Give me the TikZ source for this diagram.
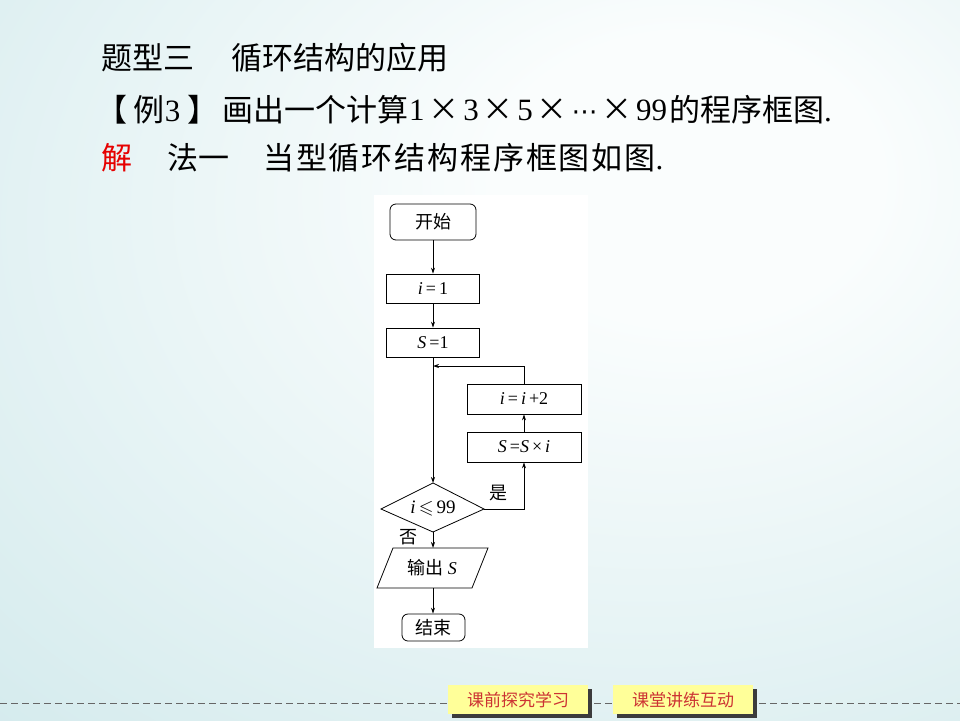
\documentclass[tikz,border=0pt]{standalone}
\usepackage{fontspec}
\usepackage{amssymb}
\setmainfont{Liberation Serif}
\newfontfamily\cjk{Noto Sans CJK SC}
\newfontfamily\cjksp[LetterSpace=6]{Noto Sans CJK SC}
\newfontfamily\dejavu{DejaVu Sans}
\usetikzlibrary{arrows.meta}
\definecolor{bgin}{RGB}{250,253,253}
\definecolor{bgout}{RGB}{186,222,226}
\definecolor{btnyellow}{RGB}{255,255,153}
\definecolor{btnred}{RGB}{204,51,51}
\definecolor{shadowgray}{RGB}{60,60,60}
\definecolor{jiered}{RGB}{230,0,0}
\pgfdeclareradialshading{bgshade}{\pgfpoint{12bp}{14bp}}{color(0bp)=(bgin); color(10bp)=(bgin); color(72bp)=(bgout); color(100bp)=(bgout)}
\tikzset{
  flow/.style={draw, line width=0.8pt, font=\fontsize{18}{18}\selectfont, inner sep=0pt, anchor=center},
  arr/.style={-{Stealth[length=6pt,width=4pt]}, line width=0.8pt},
  line/.style={line width=0.8pt},
  big/.style={anchor=west, inner sep=0pt, font=\fontsize{31}{31}\selectfont},
  lbl/.style={inner sep=0pt, font=\cjk\fontsize{18}{18}\selectfont},
  btn/.style={fill=btnyellow, text=btnred, inner sep=0pt, minimum width=140pt, minimum height=29pt, font=\cjk\fontsize{17}{17}\selectfont},
}
\begin{document}
\begin{tikzpicture}[x=1pt,y=-1pt]
\useasboundingbox (0,0) rectangle (960,720);
\shade[shading=bgshade] (0,0) rectangle (960,720);
\fill[white] (374,195) rectangle (588,648);

% header text
\node[big] (t1a) at (101,58) {\cjk 题型三};
\node[big] (t1b) at (231,58) {\cjk 循环结构的应用};
\node[big] (t2a) at (96,110) {\hbox to 122pt{{\cjk 【}\hfil{\cjk 例}3\hfil{\cjk 】}}};
\node[big] (t2b) at (222,110) {\cjk 画出一个计算};
\node[big] (t2c) at (409,110) {\hbox to 258pt{1\hfil{\cjk ×}\hfil 3\hfil{\cjk ×}\hfil 5\hfil{\cjk ×}\hfil{\dejavu\fontsize{26}{26}\selectfont ⋯}\hfil{\cjk ×}\hfil 99}};
\node[big, anchor=east] (t2d) at (832,110) {{\cjk 的程序框图}.};
\node[big, text=jiered] (t3a) at (101,158) {\cjk 解};
\node[big] (t3b) at (167,158) {\cjk 法一};
\node[big] (t3c) at (263,158) {{\cjksp 当型循环结构程序框图如图}.};

% flowchart
\node[flow, rounded corners=6pt, minimum width=86pt, minimum height=36pt] (start) at (433,222) {\cjk 开始};
\node[flow, minimum width=93pt, minimum height=29pt] (i1) at (433,288.5) {\textit{i}\,=\,1};
\node[flow, minimum width=93pt, minimum height=29pt] (s1) at (433,342.5) {\textit{S}\,=1};
\node[flow, minimum width=114pt, minimum height=30pt] (inc) at (524,399) {\textit{i}\,=\,\textit{i}\,+2};
\node[flow, minimum width=114pt, minimum height=30pt] (mul) at (524,447) {\textit{S}\,=\textit{S}\,×\,\textit{i}};

\coordinate (dt) at (433,483);
\coordinate (dr) at (484,509);
\coordinate (db) at (433,532);
\coordinate (dl) at (381,509);
\draw[line] (dt) -- (dr) -- (db) -- (dl) -- cycle;
\node[inner sep=0pt, font=\fontsize{19}{19}\selectfont] (dec) at (433,508.5) {\textit{i}\,$\leqslant$\,99};

\coordinate (p1) at (393,548);
\coordinate (p2) at (488,548);
\coordinate (p3) at (472,588);
\coordinate (p4) at (377,588);
\draw[line] (p1) -- (p2) -- (p3) -- (p4) -- cycle;
\node[inner sep=0pt, font=\fontsize{18}{18}\selectfont] (out) at (432,568) {{\cjk 输出} \textit{S}};
\coordinate (ot) at (433,548);
\coordinate (ob) at (433,588);

\node[flow, rounded corners=6pt, minimum width=63pt, minimum height=27pt] (end) at (433.5,627.5) {\cjk 结束};

\coordinate (jn) at (433,366);

\draw[arr] (start.south) -- (i1.north);
\draw[arr] (i1.south) -- (s1.north);
\draw[arr] (s1.south) -- (dt);
\draw[arr] (db) -- (ot);
\draw[arr] (ob) -- (end.north -| ob);
\draw[arr] (dr) -| (mul.south);
\draw[arr] (mul.north) -- (inc.south);
\draw[arr] (inc.north) |- (jn);

\node[lbl] (yes) at (498,493) {是};
\node[lbl] (no) at (408,537) {否};

% bottom bar
\draw[gray!80!black, line width=1pt, dash pattern=on 7pt off 4pt] (0,703) -- (960,703);
\fill[shadowgray] (452,689) rectangle (592,718);
\node[btn] (b1) at (518,699.5) {课前探究学习};
\fill[shadowgray] (617,689) rectangle (757,718);
\node[btn] (b2) at (683,699.5) {课堂讲练互动};
\end{tikzpicture}
\end{document}
